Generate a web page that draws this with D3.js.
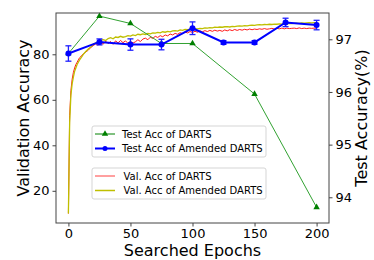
<!DOCTYPE html>
<html><head><meta charset="utf-8">
<script src="https://cdn.jsdelivr.net/npm/d3@7"></script>
<style>body{margin:0;background:#fff}svg{display:block}text{font-family:"DejaVu Sans",sans-serif;fill:#000}</style>
</head><body><svg id="c" width="374" height="260"></svg>
<script>
// Test accuracy (right axis)
const testEpochs = [0, 25, 50, 75, 100, 150, 200];
const testDarts = [96.73, 97.44, 97.30, 96.92, 96.92, 95.96, 93.81];
const amendEpochs = [0, 25, 50, 75, 100, 125, 150, 175, 200];
const testAmended = [96.73, 96.95, 96.90, 96.90, 97.21, 96.94, 96.94, 97.32, 97.27];
const testAmendedErr = [0.146, 0.057, 0.108, 0.10, 0.12, 0.035, 0.035, 0.08, 0.09];
// Validation accuracy (left axis)
const valEpochs = [0,1,2,3,4,5,6,7,8,9,10,12,14,16,18,20,22,24,26,28,30,32,34,36,38,40,42,44,46,48,50,52,54,56,58,60,62,64,66,68,70,72,74,76,78,80,82,84,86,88,90,92,94,96,98,100,102,104,106,108,110,112,114,116,118,120,122,124,126,128,130,132,134,136,138,140,142,144,146,148,150,152,154,156,158,160,162,164,166,168,170,172,174,176,178,180,182,184,186,188,190,192,194,196,198,200];
const valDarts = [10,53,64,69,72,74,75.5,76.5,77.5,78.5,79,80.2,81,81.8,83.0,83.8,84.6,84.0,85.3,84.4,85.8,84.7,85.6,84.4,85.9,85.0,86.1,85.1,85.9,84.8,85.7,84.9,85.5,86.4,85.6,86.7,87.1,86.4,87.5,87.0,87.9,87.4,88.2,87.7,88.5,88.1,88.9,88.5,89.2,88.8,89.5,89.1,89.8,89.4,90.0,89.6,90.1,89.7,90.3,89.9,90.4,90.0,90.5,90.1,90.6,90.2,90.5,90.1,90.7,90.3,90.8,90.4,90.9,90.5,90.9,90.6,91.0,90.7,91.1,90.8,91.1,90.9,91.2,91.0,91.3,91.0,91.2,91.4,91.1,91.4,91.2,91.5,91.2,91.5,91.3,91.4,91.5,91.3,91.6,91.3,91.5,91.3,91.5,91.4,91.5,91.4];
const valAmended = [10,50,62,67,70,72.5,74,75.5,76.5,77.5,78.3,80,81.2,82.3,83.2,84.4,85,85.6,86.2,86.4,86.1,86.9,87.3,86.8,87.6,87.4,87.9,87.5,87.8,88.2,88.0,88.5,88.2,88.8,88.6,89.0,88.7,89.2,89.0,89.4,89.3,89.6,89.4,89.9,89.7,90.1,89.9,90.3,90.4,90.2,90.7,90.5,90.9,90.8,91.1,91.0,91.3,91.2,91.4,91.3,91.6,91.5,91.7,91.6,91.9,91.8,92.0,91.9,92.1,92.2,92.0,92.3,92.2,92.4,92.5,92.4,92.6,92.5,92.7,92.8,92.7,92.9,93.0,92.9,93.1,93.0,93.2,93.1,93.3,93.2,93.4,93.3,93.5,93.4,93.6,93.5,93.6,93.7,93.6,93.8,93.7,93.8,93.9,93.8,93.9,93.9];
const xTicks = [0, 50, 100, 150, 200];
const leftTicks = [20, 40, 60, 80];
const rightTicks = [94, 95, 96, 97];

const L = 56, R = 329, T = 13, B = 223;
const svg = d3.select("#c");
const x = d3.scaleLinear().domain([-10, 210]).range([L, R]);
const yL = d3.scaleLinear().domain([5.85, 98.15]).range([B, T]);
const yR = d3.scaleLinear().domain([93.512, 97.499]).range([B, T]);

const line = (xs, ys, sc) => d3.line().x((d, i) => x(xs[i])).y(d => sc(d))(ys);

svg.append("path").attr("d", line(valEpochs, valDarts, yL)).attr("fill", "none").attr("stroke", "#ff0000").attr("stroke-width", 0.9);
svg.append("path").attr("d", line(valEpochs, valAmended, yL)).attr("fill", "none").attr("stroke", "#bfbf00").attr("stroke-width", 1.3);

svg.append("path").attr("d", line(testEpochs, testDarts, yR)).attr("fill", "none").attr("stroke", "#1a961a").attr("stroke-width", 0.9);
const tri = d3.symbol().type(d3.symbolTriangle).size(18);
svg.selectAll(".tri").data(testDarts).enter().append("path")
  .attr("d", tri).attr("transform", (d, i) => `translate(${x(testEpochs[i])},${yR(d)})`).attr("fill", "#008000");

// error bars
amendEpochs.forEach((e, i) => {
  const cx = x(e), y1 = yR(testAmended[i] - testAmendedErr[i]), y2 = yR(testAmended[i] + testAmendedErr[i]);
  svg.append("line").attr("x1", cx).attr("x2", cx).attr("y1", y1).attr("y2", y2).attr("stroke", "#2020ff").attr("stroke-width", 1.3);
  [y1, y2].forEach(yy => svg.append("line").attr("x1", cx - 3).attr("x2", cx + 3).attr("y1", yy).attr("y2", yy).attr("stroke", "#2020ff").attr("stroke-width", 1.3));
});
svg.append("path").attr("d", line(amendEpochs, testAmended, yR)).attr("fill", "none").attr("stroke", "#0000ff").attr("stroke-width", 2);
svg.selectAll(".dot").data(testAmended).enter().append("circle")
  .attr("cx", (d, i) => x(amendEpochs[i])).attr("cy", d => yR(d)).attr("r", 3).attr("fill", "#0000ff");

// frame
svg.append("rect").attr("x", L).attr("y", T).attr("width", R - L).attr("height", B - T).attr("fill", "none").attr("stroke", "#444").attr("stroke-width", 1);

// axes
const ax = svg.append("g").attr("transform", `translate(0,${B})`).call(d3.axisBottom(x).tickValues(xTicks).tickSize(3.5).tickPadding(2.5).tickFormat(d3.format("d")));
const ay = svg.append("g").attr("transform", `translate(${L},0)`).call(d3.axisLeft(yL).tickValues(leftTicks).tickSize(3.5).tickPadding(3).tickFormat(d3.format("d")));
const ar = svg.append("g").attr("transform", `translate(${R},0)`).call(d3.axisRight(yR).tickValues(rightTicks).tickSize(3.5).tickPadding(3).tickFormat(d3.format("d")));
[ax, ay, ar].forEach(g => {
  g.select(".domain").remove();
  g.selectAll("line").attr("stroke", "#444");
  g.selectAll("text").attr("font-size", 13).attr("font-family", "DejaVu Sans").attr("fill", "#000");
});

svg.append("text").attr("x", 192.5).attr("y", 256).attr("text-anchor", "middle").attr("font-size", 16).text("Searched Epochs");
svg.append("text").attr("transform", "translate(29,118) rotate(-90)").attr("text-anchor", "middle").attr("font-size", 16).text("Validation Accuracy");
svg.append("text").attr("transform", "translate(367,118) rotate(-90)").attr("text-anchor", "middle").attr("font-size", 16).text("Test Accuracy(%)");

// legends
function legend(y0, h, items) {
  svg.append("rect").attr("x", 92).attr("y", y0).attr("width", 174).attr("height", h).attr("rx", 2)
    .attr("fill", "#fff").attr("fill-opacity", 0.85).attr("stroke", "#d5d5d5").attr("stroke-width", 1);
  items.forEach((it, i) => {
    const yy = y0 + 8 + i * 14.5;
    svg.append("line").attr("x1", 95).attr("x2", 115).attr("y1", yy).attr("y2", yy).attr("stroke", it.c).attr("stroke-width", it.w);
    if (it.m === "tri") svg.append("path").attr("d", tri).attr("transform", `translate(105,${yy})`).attr("fill", "#008000");
    if (it.m === "dot") svg.append("circle").attr("cx", 105).attr("cy", yy).attr("r", 2.5).attr("fill", "#0000ff");
    svg.append("text").attr("x", it.tx).attr("y", yy + 3.6).attr("font-size", 10).text(it.t);
  });
}
legend(126, 31, [
  {c: "#80c080", w: 2, m: "tri", t: "Test Acc of DARTS", tx: 122},
  {c: "#0000ff", w: 2, m: "dot", t: "Test Acc of Amended DARTS", tx: 122}
]);
legend(168, 31, [
  {c: "#ff4040", w: 1, t: "Val. Acc of DARTS", tx: 123.5},
  {c: "#bfbf00", w: 1.5, t: "Val. Acc of Amended DARTS", tx: 123.5}
]);
</script></body></html>
